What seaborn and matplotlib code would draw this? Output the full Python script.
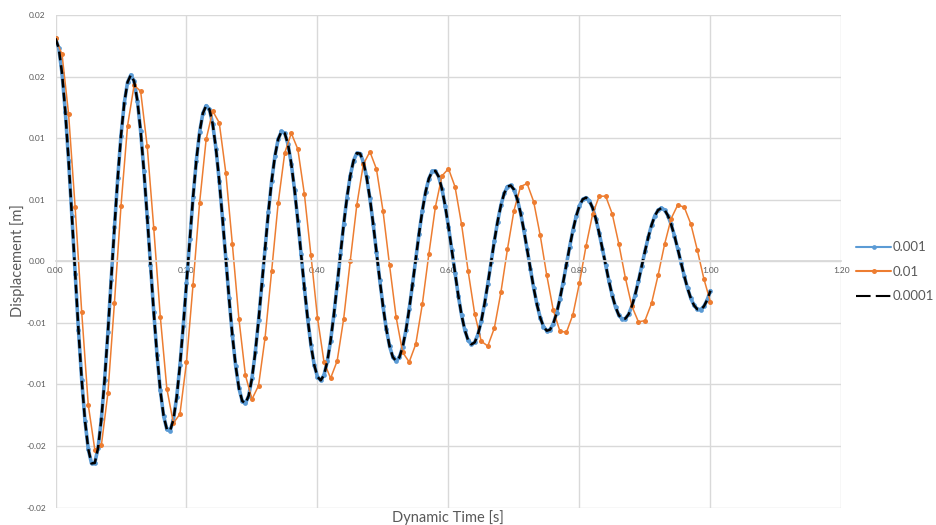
import numpy as np
import pandas as pd
import matplotlib
matplotlib.use("Agg")
import matplotlib.pyplot as plt
import seaborn as sns

# displacement values, in mm
disp_001_mm = [
    18.10, 17.30, 15.25, 12.13, 8.17, 3.68, -1.01, -5.55, -9.62, -12.94,
    -15.25, -16.42, -16.38, -15.15, -12.83, -9.62, -5.75, -1.52, 2.75, 6.75,
    10.21, 12.86, 14.54, 15.13, 14.62, 13.05, 10.55, 7.32, 3.62, -0.30,
    -4.13, -7.61, -10.48, -12.54, -13.65, -13.76, -12.87, -11.04, -8.45, -5.28,
    -1.77, 1.81, 5.20, 8.17, 10.49, 12.02, 12.64, 12.34, 11.14, 9.15,
    6.53, 3.47, 0.21, -3.02, -5.99, -8.47, -10.29, -11.34, -11.55, -10.91,
    -9.49, -7.40, -4.81, -1.90, 1.10, 3.97, 6.52, 8.54, 9.92, 10.55,
    10.40, 9.50, 7.92, 5.79, 3.28, 0.56, -2.16, -4.67, -6.81, -8.42,
    -9.39, -9.67, -9.23, -8.13, -6.45, -4.34, -1.94, 0.57, 3.00, 5.17,
    6.93, 8.16, 8.78, 8.75, 8.08, 6.83, 5.11, 3.04, 0.79, -1.50,
    -3.63, -5.48, -6.89, -7.78, -8.10, -7.81, -6.96, -5.62, -3.89, -1.91,
    0.19, 2.23, 4.08, 5.62, 6.71, 7.30, 7.34, 6.87, 5.88, 4.49,
    2.80, 0.92, -0.99, -2.80, -4.38, -5.61, -6.42, -6.75, -6.59, -5.94,
    -4.88, -3.47, -1.84, -0.09, 1.64, 3.22, 4.54, 5.51, 6.06, 6.16,
    5.82, 5.05, 3.94, 2.55, 0.99, -0.61, -2.14, -3.49, -4.57, -5.30,
    -5.64, -5.56, -5.07, -4.22, -3.08, -1.73, -0.28, 1.17, 2.52, 3.66,
    4.51, 5.03, 5.17, 4.93, 4.34, 3.44, 2.30, 1.02, -0.32, -1.62,
    -2.77, -3.71, -4.37, -4.69, -4.66, -4.31, -3.64, -2.72, -1.61, -0.40,
    0.81, 1.95, 2.93, 3.69, 4.15, 4.32, 4.17, 3.71, 2.99, 2.07,
    1.01, -0.11, -1.20, -2.19, -3.01, -3.59, -3.90, -3.93, -3.66, -3.14,
    -2.39,
]

disp_01_mm = [
    18.10, 16.80, 11.95, 4.37, -4.12, -11.65, -15.30, -14.96, -10.70, -3.36,
    4.50, 11.00, 14.30, 13.80, 9.35, 2.70, -4.50, -10.35, -13.15, -12.40,
    -8.20, -1.90, 4.74, 9.90, 12.20, 11.25, 7.20, 1.40, -4.66, -9.27,
    -11.20, -10.10, -6.20, -0.80, 4.74, 8.80, 10.40, 9.10, 5.45, 0.49,
    -4.60, -8.20, -9.50, -8.10, -4.66, 0.02, 4.55, 7.87, 8.90, 7.49,
    4.10, -0.31, -4.52, -7.39, -8.18, -6.74, -3.51, 0.57, 4.40, 6.93,
    7.52, 6.05, 2.99, -0.80, -4.26, -6.49, -6.89, -5.43, -2.53, 0.97,
    4.12, 6.06, 6.32, 4.85, 2.12, -1.12, -3.97, -5.66, -5.78, -4.33,
    -1.75, 1.24, 3.81, 5.28, 5.29, 3.85, 1.43, -1.33, -3.65, -4.92,
    -4.82, -3.42, -1.14, 1.39, 3.47, 4.57, 4.39, 3.03, 0.89, -1.44,
    -3.31,
]

# the 0.0001 run lies on top of the 0.001 run at this scale
disp_0001_mm = list(disp_001_mm)

time_001 = np.linspace(0, 1.0, len(disp_001_mm))
time_01 = np.linspace(0, 1.0, len(disp_01_mm))
time_0001 = np.linspace(0, 1.0, len(disp_0001_mm))

x_ticks = [0.0, 0.2, 0.4, 0.6, 0.8, 1.0, 1.2]
x_labels = ["0.00", "0.20", "0.40", "0.60", "0.80", "1.00", "1.20"]
y_ticks = [-0.02, -0.015, -0.01, -0.005, 0.0, 0.005, 0.01, 0.015, 0.02]
y_labels = ["-0.02", "-0.02", "-0.01", "-0.01", "0.00", "0.01", "0.01", "0.02", "0.02"]

BLUE = "#5B9BD5"
ORANGE = "#ED7D31"
GREY = "#595959"

sns.set_theme(style="white")
plt.rcParams["font.family"] = ["Lato", "DejaVu Sans"]

fig = plt.figure(figsize=(9.36, 5.25), dpi=100)
ax = fig.add_axes([0.0593, 0.0333, 0.8397, 0.9381])

df1 = pd.DataFrame({"t": time_001, "d": np.array(disp_001_mm) / 1000})
df2 = pd.DataFrame({"t": time_01, "d": np.array(disp_01_mm) / 1000})
df3 = pd.DataFrame({"t": time_0001, "d": np.array(disp_0001_mm) / 1000})

sns.lineplot(data=df1, x="t", y="d", ax=ax, color=BLUE, linewidth=2.6,
             marker="o", markersize=3.4, markeredgewidth=0, label="0.001",
             estimator=None, sort=False)
sns.lineplot(data=df2, x="t", y="d", ax=ax, color=ORANGE, linewidth=1.1,
             marker="o", markersize=3.6, markeredgewidth=0, label="0.01",
             estimator=None, sort=False)
sns.lineplot(data=df3, x="t", y="d", ax=ax, color="black", linewidth=1.8,
             label="0.0001", estimator=None, sort=False)
ax.lines[-1].set_dashes((3.5, 2.0))

ax.set_xlim(0, 1.2)
ax.set_ylim(-0.02, 0.02)
ax.set_xticks(x_ticks)
ax.set_xticklabels(x_labels)
ax.set_yticks(y_ticks)
ax.set_yticklabels(y_labels)
ax.grid(True, color="#d9d9d9", linewidth=1.0)
ax.set_axisbelow(True)
for s in ["top", "right", "left"]:
    ax.spines[s].set_visible(False)
ax.spines["bottom"].set_position(("data", 0))
ax.spines["bottom"].set_color("#d9d9d9")
ax.tick_params(axis="x", length=0, labelsize=6, labelcolor=GREY, pad=4)
ax.tick_params(axis="y", length=0, labelsize=6, labelcolor=GREY, pad=7)

ax.set_xlabel("")
ax.set_ylabel("")
fig.text(0.4785, 0.0, "Dynamic Time [s]", ha="center", va="bottom",
         fontsize=10.5, color=GREY)
fig.text(0.019, 0.503, "Displacement [m]", ha="center", va="center",
         rotation=90, fontsize=10.5, color=GREY)

leg = ax.legend(loc="center left", bbox_to_anchor=(0.915, 0.482),
                bbox_transform=fig.transFigure, frameon=False,
                fontsize=9.5, handlelength=2.6, handletextpad=0.15,
                labelspacing=0.95, borderpad=0, borderaxespad=0)
for txt in leg.get_texts():
    txt.set_color(GREY)
for h in leg.get_lines():
    h.set_linewidth(1.5)
leg.get_lines()[-1].set_dashes((7, 2.5))

fig.savefig("out.png", dpi=100)
